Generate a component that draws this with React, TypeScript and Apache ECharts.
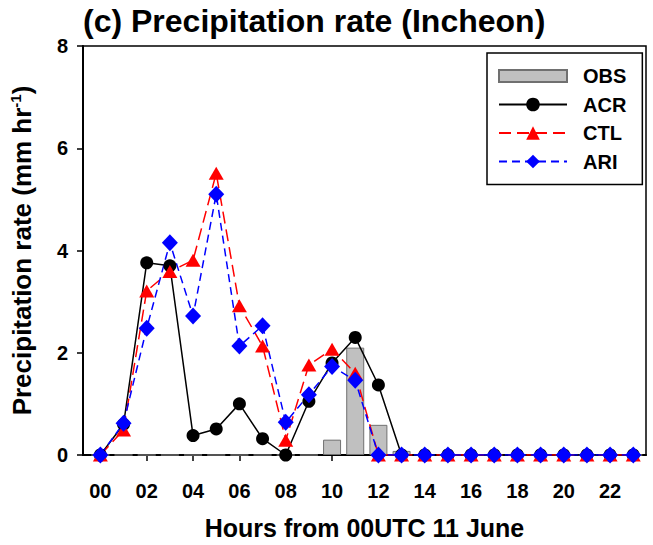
import React, { useEffect, useRef } from "react";
import * as echarts from "echarts";

const FONT = '"Liberation Sans", Arial, sans-serif';

const hours = [0, 1, 2, 3, 4, 5, 6, 7, 8, 9, 10, 11, 12, 13, 14, 15, 16, 17, 18, 19, 20, 21, 22, 23];
const obs = [0, 0, 0, 0, 0, 0, 0, 0, 0, 0, 0.3, 2.1, 0.59, 0.08, 0, 0, 0, 0, 0, 0, 0, 0, 0, 0];
const acr = [0, 0.6, 3.76, 3.7, 0.38, 0.51, 1.0, 0.32, 0.0, 1.05, 1.8, 2.3, 1.37, 0, 0, 0, 0, 0, 0, 0, 0, 0, 0, 0];
const ctl = [0, 0.49, 3.21, 3.59, 3.81, 5.51, 2.92, 2.13, 0.29, 1.76, 2.07, 1.6, 0, 0, 0, 0, 0, 0, 0, 0, 0, 0, 0, 0];
const ari = [0, 0.62, 2.48, 4.15, 2.72, 5.1, 2.13, 2.53, 0.64, 1.18, 1.73, 1.46, 0, 0, 0, 0, 0, 0, 0, 0, 0, 0, 0, 0];

const xTickValues = [0, 2, 4, 6, 8, 10, 12, 14, 16, 18, 20, 22];
const xTickLabels = ["00", "02", "04", "06", "08", "10", "12", "14", "16", "18", "20", "22"];

export default function App() {
  const ref = useRef<HTMLDivElement>(null);
  useEffect(() => {
    if (!ref.current) return;
    const chart = echarts.init(ref.current, null, { renderer: "svg" });
    const pairs = (arr: number[]) => hours.map((h, i) => [h, arr[i]]);
    const option: any = {
      animation: false,
      backgroundColor: "#fff",
      title: {
        text: "(c) Precipitation rate (Incheon)",
        left: 83,
        top: 5,
        padding: 0,
        textStyle: { fontFamily: FONT, fontWeight: "bold", fontSize: 32, color: "#000" },
      },
      grid: {
        left: 82,
        right: 7,
        top: 46,
        bottom: 90,
        show: true,
        borderColor: "#000",
        borderWidth: 1.5,
        backgroundColor: "transparent",
      },
      legend: {
        orient: "vertical",
        left: 487,
        top: 53,
        padding: [13, 16, 13, 11],
        itemWidth: 68,
        itemHeight: 17,
        itemGap: 8.5,
        borderColor: "#000",
        borderWidth: 1.5,
        borderRadius: 0,
        backgroundColor: "#fff",
        textStyle: {
          fontFamily: FONT,
          fontWeight: "bold",
          fontSize: 20,
          color: "#000",
          padding: [0, 0, 0, 11],
        },
        data: [{ name: "OBS", icon: "path://M0,0H68V12H0Z" }, "ACR", "CTL", "ARI"],
      },
      xAxis: {
        type: "value",
        min: -0.75,
        max: 23.55,
        splitLine: { show: false },
        axisLine: { onZero: false, lineStyle: { color: "#000", width: 2 } },
        axisTick: { show: true, customValues: xTickValues, length: 6, lineStyle: { color: "#000", width: 1.5 } },
        axisLabel: {
          customValues: xTickValues,
          formatter: (v: number) => xTickLabels[xTickValues.indexOf(Math.round(v))] ?? "",
          margin: 26,
          fontFamily: FONT,
          fontWeight: "bold",
          fontSize: 20,
          color: "#000",
        },
        name: "Hours from 00UTC 11 June",
        nameLocation: "middle",
        nameGap: 60,
        nameTextStyle: { fontFamily: FONT, fontWeight: "bold", fontSize: 25, color: "#000" },
      },
      yAxis: {
        type: "value",
        min: 0,
        max: 8,
        interval: 2,
        splitLine: { show: false },
        axisLine: { show: true, onZero: false, lineStyle: { color: "#000", width: 2 } },
        axisTick: { show: true, length: 6, lineStyle: { color: "#000", width: 1.5 } },
        axisLabel: { margin: 15, fontFamily: FONT, fontWeight: "bold", fontSize: 20, color: "#000" },
        name: "Precipitation rate (mm hr{sup|-1})",
        nameLocation: "middle",
        nameGap: 47,
        nameTextStyle: {
          fontFamily: FONT,
          fontWeight: "bold",
          fontSize: 26,
          color: "#000",
          rich: {
            sup: { fontFamily: FONT, fontWeight: "bold", fontSize: 15, color: "#000", padding: [0, 0, 13, 0] },
          },
        },
      },
      series: [
        {
          name: "OBS",
          type: "bar",
          data: pairs(obs),
          barWidth: 18,
          itemStyle: { color: "#c0c0c0", borderColor: "#707070", borderWidth: 1 },
        },
        {
          name: "ACR",
          type: "line",
          data: pairs(acr),
          color: "#000",
          symbol: "circle",
          symbolSize: 13,
          showAllSymbol: true,
          lineStyle: { color: "#000", width: 1.5 },
          itemStyle: { color: "#000" },
        },
        {
          name: "CTL",
          type: "line",
          data: pairs(ctl),
          color: "#ff0000",
          symbol: "triangle",
          symbolSize: [15, 13],
          showAllSymbol: true,
          lineStyle: { color: "#ff0000", width: 1.5, type: [12, 6] },
          itemStyle: { color: "#ff0000" },
        },
        {
          name: "ARI",
          type: "line",
          data: pairs(ari),
          color: "#0000ff",
          symbol: "diamond",
          symbolSize: [16, 17],
          showAllSymbol: true,
          lineStyle: { color: "#0000ff", width: 1.5, type: [8, 5] },
          itemStyle: { color: "#0000ff" },
        },
      ],
    };
    chart.setOption(option);
    return () => chart.dispose();
  }, []);
  return (
    <div
      ref={ref}
      style={{ position: "fixed", left: 0, top: 0, width: 653, height: 545 }}
    />
  );
}
